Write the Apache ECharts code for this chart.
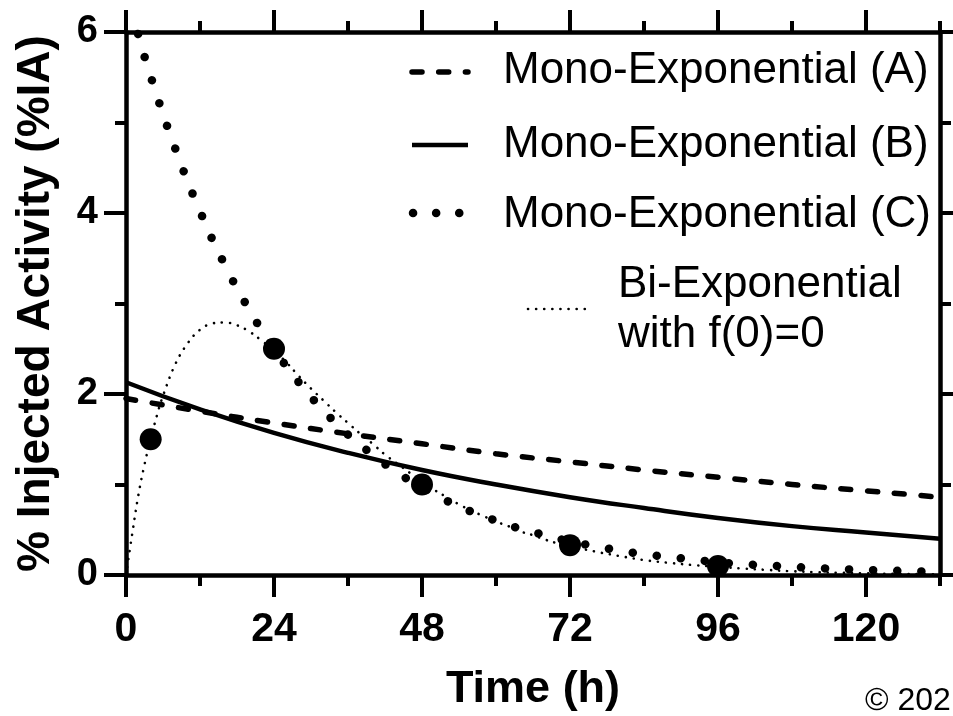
<!DOCTYPE html>
<html>
<head>
<meta charset="utf-8">
<script src="https://cdn.jsdelivr.net/npm/echarts@6/dist/echarts.min.js"></script>
<style>
  html, body { margin: 0; padding: 0; background: #fff; }
  #chart { width: 953px; height: 716px; }
</style>
</head>
<body>
<div id="chart"></div>
<script>
// times (h) and fitted values (%IA)
const monoTimes = [0, 12, 24, 36, 48, 60, 72, 84, 96, 108, 120, 132];
const monoA = [1.95, 1.81, 1.68, 1.56, 1.45, 1.34, 1.25, 1.16, 1.08, 1.00, 0.93, 0.86];
const monoB = [2.13, 1.83, 1.57, 1.35, 1.16, 1.00, 0.86, 0.74, 0.63, 0.54, 0.47, 0.40];

const monoCTimes = [0, 2, 4, 8, 12, 16, 20, 24, 28, 32, 36, 40, 44, 48, 52, 56, 60, 64, 68, 72,
  76, 80, 84, 88, 92, 96, 100, 104, 108, 112, 116, 120, 124, 128, 132];
const monoC = [6.46, 5.97, 5.51, 4.71, 4.02, 3.43, 2.93, 2.50, 2.13, 1.82, 1.55, 1.33, 1.13, 0.97,
  0.82, 0.70, 0.60, 0.51, 0.44, 0.37, 0.32, 0.27, 0.23, 0.20, 0.17, 0.14, 0.12, 0.105, 0.09,
  0.077, 0.065, 0.056, 0.048, 0.041, 0.035];

const biTimes = [0, 1, 2, 3, 4, 5, 6, 8, 10, 12, 14, 16, 18, 20, 22, 24, 26, 28, 30, 32, 34, 36,
  38, 40, 42, 44, 46, 48, 50, 52, 54, 56, 58, 60, 62, 64, 66, 68, 70, 72, 76, 80, 84, 88, 92, 96,
  100, 104, 108, 112, 116, 120, 124, 128, 132];
const biExp = [0, 0.45, 0.88, 1.22, 1.50, 1.76, 1.98, 2.33, 2.56, 2.71, 2.78, 2.79, 2.76, 2.69,
  2.59, 2.48, 2.35, 2.20, 2.06, 1.93, 1.80, 1.68, 1.56, 1.45, 1.33, 1.23, 1.13, 1.03, 0.94, 0.86,
  0.78, 0.71, 0.65, 0.59, 0.54, 0.48, 0.44, 0.39, 0.35, 0.32, 0.26, 0.21, 0.165, 0.135, 0.11,
  0.09, 0.072, 0.056, 0.042, 0.032, 0.024, 0.018, 0.013, 0.01, 0.007];

const measTimes = [4, 24, 48, 72, 96];
const measured = [1.5, 2.5, 1.0, 0.33, 0.1];

const xMajor = [0, 24, 48, 72, 96, 120];
const xMinor = [12, 36, 60, 84, 108, 132];

const FONT = '"Liberation Sans", Arial, sans-serif';
const pairs = (xs, ys) => xs.map((x, i) => [x, ys[i]]);

const chart = echarts.init(document.getElementById('chart'));

const lineW = 4.5;
const baseX = (extra) => Object.assign({
  type: 'value', min: 0, max: 132, gridIndex: 0,
  axisLine: { show: false, onZero: false },
  axisTick: { show: false },
  axisLabel: { show: false },
  splitLine: { show: false }
}, extra);

const option = {
  backgroundColor: '#fff',
  animation: false,
  grid: { left: 126, right: 13, top: 32, bottom: 141, outerBoundsMode: 'none', containLabel: false },
  xAxis: [
    baseX({
      position: 'bottom',
      name: 'Time (h)', nameLocation: 'middle', nameGap: 92, nameMoveOverlap: false,
      nameTextStyle: { fontFamily: FONT, fontWeight: 'bold', fontSize: 45, color: '#000' },
      axisLine: { show: true, onZero: false, lineStyle: { color: '#000', width: lineW } },
      axisTick: { show: true, customValues: xMajor, length: 22, lineStyle: { color: '#000', width: 4 } },
      axisLabel: { show: true, customValues: xMajor, margin: 34, fontFamily: FONT, fontWeight: 'bold', fontSize: 41, color: '#000' }
    }),
    baseX({
      position: 'bottom',
      axisTick: { show: true, customValues: xMinor, length: 11, lineStyle: { color: '#000', width: 4 } }
    }),
    baseX({
      position: 'top',
      axisLine: { show: true, onZero: false, lineStyle: { color: '#000', width: lineW } },
      axisTick: { show: true, customValues: xMajor, length: 22, lineStyle: { color: '#000', width: 4 } }
    }),
    baseX({
      position: 'top',
      axisTick: { show: true, customValues: xMinor, length: 11, lineStyle: { color: '#000', width: 4 } }
    })
  ],
  yAxis: [
    {
      type: 'value', min: 0, max: 6, interval: 2, position: 'left',
      name: '% Injected Activity (%IA)', nameLocation: 'middle', nameGap: 67, nameMoveOverlap: false,
      nameTextStyle: { fontFamily: FONT, fontWeight: 'bold', fontSize: 46, color: '#000' },
      axisLine: { show: true, onZero: false, lineStyle: { color: '#000', width: lineW } },
      axisTick: { show: true, length: 22, lineStyle: { color: '#000', width: 4 } },
      minorTick: { show: true, splitNumber: 2, length: 11, lineStyle: { color: '#000', width: 4 } },
      axisLabel: { margin: 28, fontFamily: FONT, fontWeight: 'bold', fontSize: 38, color: '#000' },
      splitLine: { show: false },
      minorSplitLine: { show: false }
    },
    {
      type: 'value', min: 0, max: 6, interval: 2, position: 'right',
      axisLine: { show: true, onZero: false, lineStyle: { color: '#000', width: lineW } },
      axisTick: { show: true, length: 22, lineStyle: { color: '#000', width: 4 } },
      minorTick: { show: true, splitNumber: 2, length: 11, lineStyle: { color: '#000', width: 4 } },
      axisLabel: { show: false },
      splitLine: { show: false },
      minorSplitLine: { show: false }
    }
  ],
  series: [
    {
      name: 'Mono-Exponential (A)', type: 'line', data: pairs(monoTimes, monoA),
      smooth: true, showSymbol: false, symbol: 'none',
      lineStyle: { color: '#000', width: 5.5, type: [10, 16.7], cap: 'round' }
    },
    {
      name: 'Mono-Exponential (B)', type: 'line', data: pairs(monoTimes, monoB),
      smooth: true, showSymbol: false, symbol: 'none',
      lineStyle: { color: '#000', width: 4.5, type: 'solid' }
    },
    {
      name: 'Mono-Exponential (C)', type: 'line', data: pairs(monoCTimes, monoC),
      smooth: true, showSymbol: false, symbol: 'none', clip: true,
      lineStyle: { color: '#000', width: 8.5, type: [0.1, 24], dashOffset: 3, cap: 'round' }
    },
    {
      name: 'Bi-Exponential with f(0)=0', type: 'line', data: pairs(biTimes, biExp),
      smooth: 0.4, showSymbol: false, symbol: 'none',
      lineStyle: { color: '#000', width: 2.6, type: [0.1, 8], cap: 'round' }
    },
    {
      name: 'Measured', type: 'scatter', data: pairs(measTimes, measured),
      symbol: 'circle', symbolSize: 22, itemStyle: { color: '#000', opacity: 1 }, z: 10
    }
  ],
  graphic: [
    // legend
    { type: 'line', shape: { x1: 412, y1: 72, x2: 468, y2: 72 },
      style: { stroke: '#000', lineWidth: 5.5, lineDash: [10, 16.7], lineCap: 'round' } },
    { type: 'text', x: 503, y: 71, style: { text: 'Mono-Exponential (A)', font: '44px ' + FONT, fill: '#000', textVerticalAlign: 'middle' } },
    { type: 'line', shape: { x1: 412, y1: 145, x2: 468, y2: 145 },
      style: { stroke: '#000', lineWidth: 4.5 } },
    { type: 'text', x: 503, y: 145, style: { text: 'Mono-Exponential (B)', font: '44px ' + FONT, fill: '#000', textVerticalAlign: 'middle' } },
    { type: 'line', shape: { x1: 413, y1: 213, x2: 468, y2: 213 },
      style: { stroke: '#000', lineWidth: 8.5, lineDash: [0.1, 23], lineCap: 'round' } },
    { type: 'text', x: 503, y: 215, style: { text: 'Mono-Exponential (C)', font: '44px ' + FONT, fill: '#000', textVerticalAlign: 'middle' } },
    { type: 'line', shape: { x1: 528, y1: 309, x2: 585, y2: 309 },
      style: { stroke: '#000', lineWidth: 2.6, lineDash: [0.1, 8], lineCap: 'round' } },
    { type: 'text', x: 618, y: 310, style: { text: 'Bi-Exponential\nwith f(0)=0', font: '44px ' + FONT, lineHeight: 50, fill: '#000', textVerticalAlign: 'middle' } },
    { type: 'text', x: 865, y: 701, style: { text: '© 2021', font: '32px ' + FONT, fill: '#000', textVerticalAlign: 'middle' } }
  ]
};

chart.setOption(option);
window.addEventListener('resize', () => chart.resize());
</script>
</body>
</html>
